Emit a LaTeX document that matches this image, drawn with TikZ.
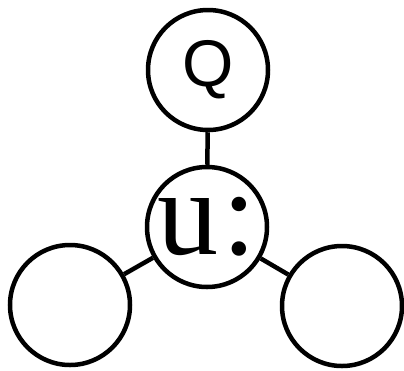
\documentclass[tikz,border=0pt]{standalone}
\usepackage{fontspec}
\setmainfont{Liberation Serif}
\newfontfamily\qfont{Liberation Sans}
\usetikzlibrary{positioning}

\begin{document}
\begin{tikzpicture}[x=1pt,y=1pt,
    ball/.style={circle,draw,line width=4.5pt,minimum size=120pt,inner sep=0pt},
    link/.style={line width=4.5pt}]
    \useasboundingbox (0,0) rectangle (404,-370);
    \node[ball] (q) at (208,-70) {\qfont\fontsize{66}{70}\selectfont Q};
    \node[ball] (u) at (207,-227) {\fontsize{122}{124}\selectfont u\kern4pt:};
    \node[ball] (left) at (70,-305) {};
    \node[ball] (right) at (342,-306) {};
    \draw[link] (q) -- (u);
    \draw[link] (u) -- (left);
    \draw[link] (u) -- (right);
  \end{tikzpicture}
\end{document}
